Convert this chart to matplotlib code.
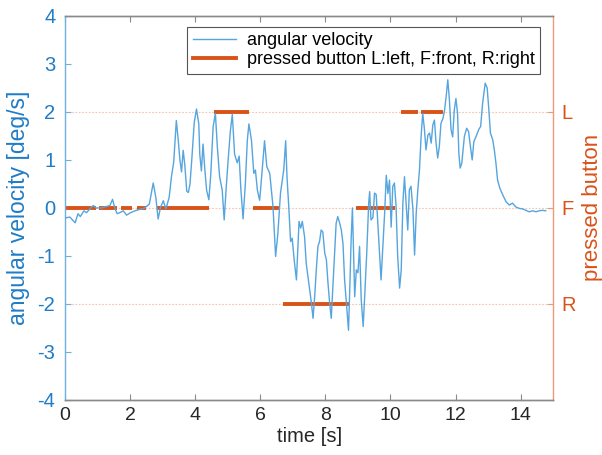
import matplotlib
matplotlib.use("Agg")
import matplotlib.pyplot as plt
from matplotlib.lines import Line2D

plt.rcParams['font.family'] = ['Liberation Sans', 'DejaVu Sans']

# ---- data ----
time_s = [0.0, 0.15, 0.31, 0.4, 0.47, 0.58, 0.66, 0.79, 0.87, 0.95, 1.12, 1.28, 1.38, 1.46, 1.53, 1.6,
          1.68, 1.79, 1.89, 2.01, 2.15, 2.3, 2.45, 2.59, 2.71, 2.79, 2.86, 2.93, 3.02, 3.1, 3.2, 3.27,
          3.34, 3.42, 3.48, 3.53, 3.58, 3.63, 3.68, 3.74, 3.79, 3.84, 3.9, 3.97, 4.04, 4.11, 4.14, 4.19,
          4.24, 4.29, 4.35, 4.42, 4.48, 4.55, 4.62, 4.68, 4.75, 4.83, 4.89, 4.96, 5.01, 5.08, 5.14, 5.21,
          5.29, 5.35, 5.4, 5.47, 5.54, 5.6, 5.65, 5.73, 5.8, 5.85, 5.91, 5.98, 6.05, 6.13, 6.2, 6.29,
          6.39, 6.47, 6.54, 6.62, 6.72, 6.78, 6.82, 6.88, 6.93, 6.98, 7.04, 7.11, 7.16, 7.19, 7.24, 7.29,
          7.36, 7.41, 7.49, 7.57, 7.62, 7.67, 7.72, 7.77, 7.82, 7.87, 7.92, 7.98, 8.03, 8.08, 8.13, 8.18,
          8.23, 8.28, 8.33, 8.38, 8.44, 8.49, 8.54, 8.59, 8.66, 8.71, 8.76, 8.79, 8.83, 8.9, 8.95, 9.0,
          9.05, 9.1, 9.16, 9.21, 9.27, 9.33, 9.36, 9.4, 9.46, 9.51, 9.56, 9.61, 9.66, 9.71, 9.76, 9.82,
          9.87, 9.92, 9.97, 10.02, 10.07, 10.12, 10.17, 10.22, 10.28, 10.33, 10.38, 10.43, 10.48, 10.53,
          10.58, 10.63, 10.69, 10.74, 10.79, 10.84, 10.89, 10.94, 10.99, 11.04, 11.09, 11.15, 11.2, 11.25,
          11.3, 11.35, 11.4, 11.45, 11.5, 11.55, 11.61, 11.66, 11.71, 11.76, 11.81, 11.86, 11.91, 11.96,
          12.01, 12.06, 12.1, 12.14, 12.19, 12.27, 12.34, 12.4, 12.45, 12.51, 12.56, 12.63, 12.71, 12.77,
          12.83, 12.91, 12.97, 13.02, 13.07, 13.14, 13.19, 13.24, 13.29, 13.36, 13.45, 13.55, 13.65, 13.75,
          13.85, 13.96, 14.06, 14.16, 14.26, 14.37, 14.47, 14.57, 14.67, 14.77]

angular_velocity = [-0.21, -0.19, -0.31, -0.12, -0.18, -0.06, -0.1, 0.0, 0.05, 0.0, 0.0, 0.03, 0.05, 0.18, 0.0, -0.12,
                    -0.1, -0.06, -0.15, -0.1, -0.06, -0.03, 0.0, 0.08, 0.52, 0.22, -0.23, 0.0, 0.15, -0.02, 0.22, 0.65,
                    0.96, 1.82, 1.4, 1.0, 0.75, 1.2, 0.9, 0.35, 0.32, 0.5, 1.06, 1.78, 2.06, 1.75, 1.12, 0.77,
                    1.33, 0.85, 0.37, 0.17, 0.72, 1.69, 1.97, 1.27, 0.65, 0.37, -0.25, 0.5, 0.98, 1.6, 1.95, 1.12,
                    0.94, 1.08, 0.42, -0.23, 0.5, 1.4, 1.75, 1.4, 0.72, 0.79, 0.37, 0.16, 0.72, 1.4, 0.86, 0.72,
                    0.03, -1.01, -0.53, 0.31, 0.79, 1.4, 0.65, -0.04, -0.7, -0.63, -1.08, -1.5, -0.74, -0.28, -0.42, -0.28,
                    -0.6, -1.15, -1.57, -1.98, -2.3, -1.85, -1.29, -0.8, -0.7, -0.46, -0.5, -0.94, -1.08, -1.57, -1.98, -2.3,
                    -1.64, -0.94, -0.32, -0.18, -0.32, -0.46, -0.74, -1.5, -2.13, -2.55, -1.43, -0.67, 0.0, -1.85, -1.29, -1.35,
                    -0.8, -1.9, -2.47, -1.8, -0.94, 0.1, 0.34, -0.25, -0.2, 0.31, 0.28, -0.32, -0.88, -1.5, -0.88, -0.11,
                    0.68, 0.3, 0.58, -0.4, 0.45, 0.52, 0.05, -1.0, -1.67, -1.29, 0.1, 0.65, 0.1, -0.46,
                    0.38, 0.45, -0.04, -0.98, -0.11, 0.38, 0.79, 1.49, 1.97, 1.66, 1.21, 1.52, 1.56, 1.35,
                    1.73, 1.83, 1.35, 1.04, 1.28, 1.76, 1.86, 2.03, 2.32, 2.67, 2.25, 1.63, 1.48, 2.04,
                    2.28, 1.97, 1.14, 0.83, 0.93, 1.49, 1.66, 1.59, 1.31, 1.0, 1.38, 1.49, 1.63, 1.7,
                    2.18, 2.6, 2.5, 2.06, 1.56, 1.42, 1.21, 0.93, 0.58, 0.41, 0.27, 0.13, 0.06, 0.1,
                    0.02, -0.01, -0.02, -0.05, -0.08, -0.06, -0.08, -0.06, -0.05, -0.06]

press_start = [0.03, 1.04, 1.72, 2.21, 2.82, 4.57, 5.77, 6.69, 8.93, 10.31, 10.95]
press_end = [0.95, 1.6, 2.06, 2.48, 4.42, 5.64, 6.56, 8.77, 10.15, 10.86, 11.6]
press_level = [0, 0, 0, 0, 0, 2, 0, -2, 0, 2, 2]

x_ticks = [0, 2, 4, 6, 8, 10, 12, 14]
y_ticks = [-4, -3, -2, -1, 0, 1, 2, 3, 4]
button_ticks = [-2, 0, 2]
button_labels = ['R', 'F', 'L']

# ---- style ----
BLUE_LINE = '#55a5de'
BLUE_AX = '#1f7cc6'
BLUE_SPINE = '#6fb0e3'
ORANGE = '#D95319'
ORANGE_SPINE = '#eb9a7a'
GRAY = '#8a8a8a'

fig = plt.figure(figsize=(6.02, 4.55), dpi=100)
ax = fig.add_axes([0.108, 0.121, 0.811, 0.844])
ax2 = ax.twinx()
ax.set_zorder(ax2.get_zorder() + 1)
ax.patch.set_visible(False)

for s, e, lv in zip(press_start, press_end, press_level):
    ax.plot([s, e], [lv, lv], color=ORANGE, lw=2.8, solid_capstyle='butt', zorder=2)
ax.plot(time_s, angular_velocity, color=BLUE_LINE, lw=1.0, zorder=3)

ax.set_xlim(0, 15)
ax.set_ylim(-4, 4)
ax2.set_ylim(-4, 4)
ax.set_xticks(x_ticks)
ax.set_yticks(y_ticks)
ax.set_yticklabels([str(v) for v in y_ticks])
ax2.set_yticks(button_ticks)
ax2.set_yticklabels(button_labels)

ax.tick_params(axis='x', direction='in', length=4, width=0.8, color=GRAY, labelsize=14,
               labelcolor='#262626', top=True, pad=5)
ax.tick_params(axis='y', direction='in', length=4, width=0.8, color=BLUE_SPINE, labelsize=14.5,
               labelcolor=BLUE_AX, pad=7)
ax2.tick_params(axis='y', direction='in', length=4, width=0.8, color=ORANGE_SPINE, labelsize=14.5,
                labelcolor=ORANGE, pad=6)

ax2.yaxis.grid(True, color='#f4c4b0', linestyle=(0, (1.5, 1.5)), linewidth=0.8)
ax2.xaxis.grid(False)

for a in (ax, ax2):
    a.spines['top'].set_color(GRAY)
    a.spines['bottom'].set_color(GRAY)
    a.spines['left'].set_color(BLUE_SPINE)
    a.spines['right'].set_color(ORANGE_SPINE)
    for sp in a.spines.values():
        sp.set_linewidth(1.0)
ax.spines['right'].set_visible(False)
ax2.spines['left'].set_visible(False)

ax.set_xlabel('time [s]', fontsize=14.5, color='#262626', labelpad=2)
ax.set_ylabel('angular velocity [deg/s]', fontsize=16.5, color=BLUE_AX, labelpad=5)
ax2.set_ylabel('pressed button', fontsize=16, color=ORANGE, labelpad=4)

handles = [Line2D([], [], color=BLUE_LINE, lw=1.0),
           Line2D([], [], color=ORANGE, lw=2.8)]
leg = ax.legend(handles, ['angular velocity', 'pressed button L:left, F:front, R:right'],
                loc='upper right', bbox_to_anchor=(540 / 602, 1 - 27 / 455),
                bbox_transform=fig.transFigure, fontsize=13, frameon=True, fancybox=False,
                borderpad=0.3, labelspacing=0.1, handlelength=2.4, handletextpad=0.6,
                borderaxespad=0, edgecolor='#555555', framealpha=1)
leg.get_frame().set_linewidth(0.8)

fig.savefig('out.png', dpi=100)
